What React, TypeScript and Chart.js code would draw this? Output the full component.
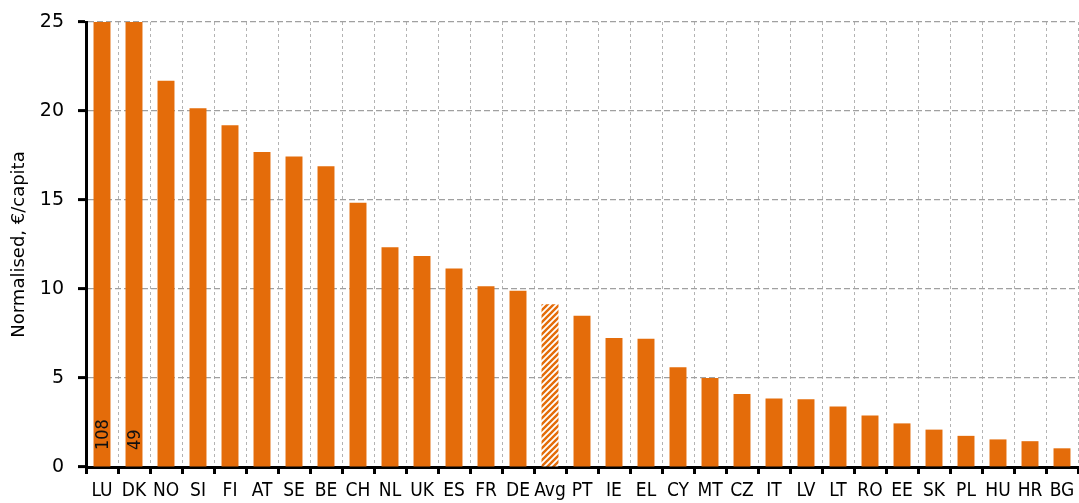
import React, { useEffect, useRef } from 'react';
import { Chart, registerables } from 'chart.js';

Chart.register(...registerables);

const categories = ['LU', 'DK', 'NO', 'SI', 'FI', 'AT', 'SE', 'BE', 'CH', 'NL', 'UK', 'ES', 'FR', 'DE', 'Avg', 'PT', 'IE', 'EL', 'CY', 'MT', 'CZ', 'IT', 'LV', 'LT', 'RO', 'EE', 'SK', 'PL', 'HU', 'HR', 'BG'];
const values = [108, 49, 21.7, 20.15, 19.2, 17.7, 17.45, 16.9, 14.85, 12.35, 11.85, 11.15, 10.15, 9.9, 9.15, 8.5, 7.25, 7.2, 5.6, 5.0, 4.1, 3.85, 3.8, 3.4, 2.9, 2.45, 2.1, 1.75, 1.55, 1.45, 1.05];
const averageCategory = 'Avg';
const yTitle = 'Normalised, €/capita';
const yMin = 0;
const yMax = 25;
const yStep = 5;

const ORANGE = '#E46C0A';
const NARROW = "'DejaVu Sans Condensed', 'DejaVu Sans', sans-serif";
const WIDE = "'DejaVu Sans', sans-serif";

function makeHatch(): CanvasPattern | string {
  const c = document.createElement('canvas');
  const s = 6;
  c.width = s;
  c.height = s;
  const ctx = c.getContext('2d');
  if (!ctx) return ORANGE;
  ctx.fillStyle = '#ffffff';
  ctx.fillRect(0, 0, s, s);
  ctx.strokeStyle = ORANGE;
  ctx.lineWidth = 2.4;
  ctx.beginPath();
  ctx.moveTo(-s, s * 2);
  ctx.lineTo(s * 2, -s);
  ctx.moveTo(-s * 2, s * 2);
  ctx.lineTo(s, -s);
  ctx.moveTo(0, s * 2);
  ctx.lineTo(s * 3, -s);
  ctx.stroke();
  const p = ctx.createPattern(c, 'repeat');
  return p || ORANGE;
}

const overflowLabels = {
  id: 'overflowLabels',
  afterDatasetsDraw(chart: any) {
    const meta = chart.getDatasetMeta(0);
    const yScale = chart.scales.y;
    const ctx = chart.ctx;
    ctx.save();
    ctx.font = `18px ${NARROW}`;
    ctx.fillStyle = '#111111';
    ctx.textAlign = 'left';
    ctx.textBaseline = 'middle';
    values.forEach((v, i) => {
      if (v > yMax) {
        const el = meta.data[i];
        const x = el.x;
        const y = yScale.getPixelForValue(0) - 17;
        ctx.save();
        ctx.translate(x, y);
        ctx.rotate(-Math.PI / 2);
        ctx.fillText(String(v), 0, 1);
        ctx.restore();
      }
    });
    ctx.restore();
  },
};

export default function App() {
  const ref = useRef<HTMLCanvasElement | null>(null);

  useEffect(() => {
    if (!ref.current) return;
    Chart.defaults.font.family = WIDE;
    Chart.defaults.color = '#000000';
    const hatch = makeHatch();
    const chart = new Chart(ref.current, {
      type: 'bar',
      data: {
        labels: categories,
        datasets: [
          {
            data: values,
            backgroundColor: categories.map((c) => (c === averageCategory ? hatch : ORANGE)) as any,
            borderWidth: 0,
            barPercentage: 0.53,
            categoryPercentage: 1,
            clip: 0 as any,
          },
        ],
      },
      options: {
        responsive: false,
        animation: false,
        layout: { padding: { top: 22, right: 1, left: 0, bottom: 0 } },
        plugins: {
          legend: { display: false },
          tooltip: { enabled: false },
        },
        scales: {
          x: {
            offset: true,
            grid: {
              display: true,
              offset: true,
              color: '#b3b3b3',
              lineWidth: 1,
              drawTicks: true,
              tickLength: 7,
              tickColor: '#000000',
              tickWidth: 3,
            },
            border: { display: true, color: '#000000', width: 3, dash: [3, 3] },
            ticks: {
              font: { size: 19, family: NARROW },
              color: '#000000',
              padding: 6,
              maxRotation: 0,
              autoSkip: false,
            },
            afterFit: (scale: any) => {
              scale.height = 36;
              scale.paddingLeft = 0;
              scale.paddingRight = 0;
            },
          },
          y: {
            min: yMin,
            max: yMax,
            grid: {
              color: '#a0a0a0',
              lineWidth: 1.2,
              drawTicks: true,
              tickLength: 8,
              tickColor: '#000000',
              tickWidth: 3,
            },
            border: { display: true, color: '#000000', width: 3, dash: [6, 3] },
            ticks: {
              stepSize: yStep,
              font: { size: 19, family: WIDE },
              color: '#000000',
              padding: 14,
            },
            title: {
              display: true,
              text: yTitle,
              font: { size: 18, family: WIDE },
              color: '#000000',
              padding: { top: 9, bottom: 0 },
            },
            afterFit: (scale: any) => {
              scale.width = 86;
              scale.paddingTop = 0;
              scale.paddingBottom = 0;
            },
          },
        },
      },
      plugins: [overflowLabels],
    });
    return () => chart.destroy();
  }, []);

  return (
    <div style={{ position: 'absolute', left: 0, top: 0, width: 1079, height: 503, background: '#ffffff' }}>
      <canvas ref={ref} width={1079} height={503} style={{ display: 'block' }} />
    </div>
  );
}
